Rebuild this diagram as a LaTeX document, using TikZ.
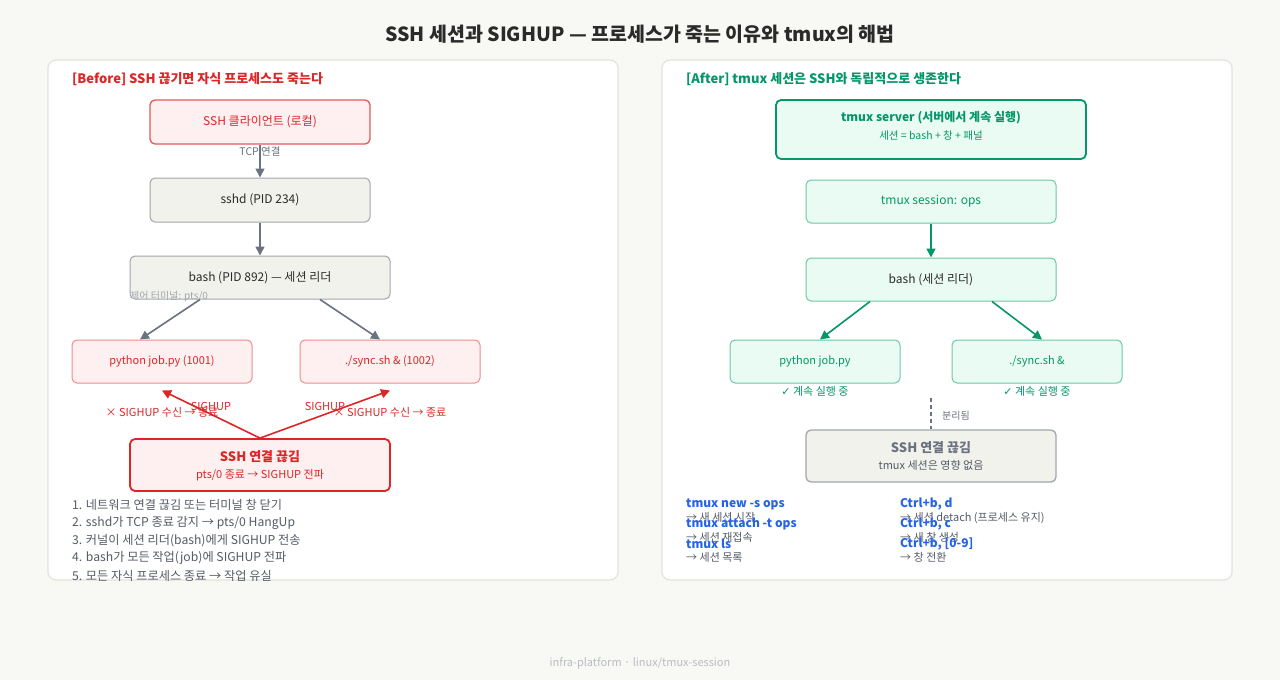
\documentclass[tikz,border=0pt]{standalone}
\usepackage{fontspec}
\setmainfont{Noto Sans CJK KR}
\newfontfamily\symf{DejaVu Sans}
\usetikzlibrary{arrows.meta,calc}
\definecolor{bgc}{HTML}{F8F8F4}
\definecolor{panelb}{HTML}{E4E4DA}
\definecolor{redt}{HTML}{DC2626}
\definecolor{redf}{HTML}{FEF0F0}
\definecolor{redb}{HTML}{E35A5A}
\definecolor{redl}{HTML}{EF8C8C}
\definecolor{grayf}{HTML}{F2F2EC}
\definecolor{grayb}{HTML}{A2A6AE}
\definecolor{graya}{HTML}{6B7280}
\definecolor{greent}{HTML}{059669}
\definecolor{greenf}{HTML}{EAFBF3}
\definecolor{greenl}{HTML}{6CC8A6}
\definecolor{bluet}{HTML}{2563EB}
\definecolor{listt}{HTML}{555B66}
\definecolor{darkt}{HTML}{2A2A2A}
\definecolor{footc}{HTML}{B8BCC4}
\tikzset{
  fs/.style={font=\fontsize{#1}{#1}\selectfont},
  tx/.style={inner sep=0pt, yshift=-1pt},
  panel/.style={draw=panelb, line width=1.2pt, fill=white, rounded corners=8pt},
  box/.style={rounded corners=5pt, line width=1pt, inner sep=0pt, align=center},
  redbox/.style={box, draw=redb, fill=redf, text=redt, fs=12},
  redlbox/.style={box, draw=redl, fill=redf, text=redt, fs=11},
  graybox/.style={box, draw=grayb, fill=grayf, text=darkt, fs=12},
  greenbox/.style={box, draw=greenl, fill=greenf, text=greent, fs=12},
  garrow/.style={draw=graya, line width=1.6pt, -{Triangle[length=9pt,width=9pt]}},
  rarrow/.style={draw=redt, line width=1.6pt, -{Triangle[length=9pt,width=9pt]}},
  grarrow/.style={draw=greent, line width=1.6pt, -{Triangle[length=9pt,width=9pt]}},
  lbl/.style={tx, anchor=west},
  cmd/.style={tx, anchor=west, text=bluet, font=\bfseries\fontsize{12}{12}\selectfont},
  desc/.style={tx, anchor=west, text=listt, fs=11},
}
\begin{document}
\begin{tikzpicture}[x=1pt,y=-1pt]
\fill[bgc] (0,0) rectangle (1280,680);
\useasboundingbox (0,0) rectangle (1280,680);
\node[tx, text=darkt, font=\bfseries\fontsize{19.5}{19.5}\selectfont] (title) at (640,33) {SSH 세션과 SIGHUP — 프로세스가 죽는 이유와 tmux의 해법};

% panels
\draw[panel] (48,60) rectangle (618,580);
\draw[panel] (662,60) rectangle (1232,580);

% ===== LEFT =====
\node[lbl, text=redt, font=\bfseries\fontsize{13}{13}\selectfont] (lh) at (72,78) {[Before] SSH 끊기면 자식 프로세스도 죽는다};
\node[redbox, minimum width=220pt, minimum height=44pt, line width=1.3pt] (cli) at (260,122) {SSH 클라이언트 (로컬)};
\node[graybox, minimum width=220pt, minimum height=44pt] (sshd) at (260,200) {sshd (PID 234)};
\node[graybox, minimum width=260pt, minimum height=43pt] (bash) at (260,277.5) {bash (PID 892) — 세션 리더};
\node[redlbox, minimum width=180pt, minimum height=43pt] (py) at (162,361.5) {python job.py (1001)};
\node[redlbox, minimum width=180pt, minimum height=43pt] (sy) at (390,361.5) {./sync.sh \& (1002)};
\node[box, draw=redt, fill=redf, line width=1.8pt, minimum width=260pt, minimum height=52pt] (down) at (260,465) {};
\node[tx, text=redt, font=\bfseries\fontsize{13}{13}\selectfont] (downt) at (260,456) {SSH 연결 끊김};
\node[tx, text=redt, fs=11] (downs) at (260,474) {pts/0 종료 → SIGHUP 전파};

\draw[garrow] (cli) -- (sshd);
\node[tx, text=graya, fs=10.5] (tcp) at (260,151) {TCP 연결};
\draw[garrow] (sshd) -- (bash);
\node[tx, anchor=west, text=grayb, fs=10] (ctty) at (130,296) {제어 터미널: pts/0};
\draw[garrow] ($(bash.south)+(-60,0)$) -- ($(py.north)+(-22,0)$);
\draw[garrow] ($(bash.south)+(60,0)$) -- ($(sy.north)+(-10,0)$);
\draw[rarrow] (down.north) -- ($(py.south)+(0,7)$);
\draw[rarrow] (down.north) -- ($(sy.south)+(0,7)$);
\node[tx, text=redt, fs=11] (s1) at (211,405) {SIGHUP};
\node[tx, text=redt, fs=11] (s2) at (325,405) {SIGHUP};
\node[tx, text=redt, fs=11] (k1) at (162,411) {× SIGHUP 수신 → 종료};
\node[tx, text=redt, fs=11] (k2) at (390,411) {× SIGHUP 수신 → 종료};

\node[desc, fs=12.2] (l1) at (72,504) {1. 네트워크 연결 끊김 또는 터미널 창 닫기};
\node[desc, fs=12.2] (l2) at (72,521.5) {2. sshd가 TCP 종료 감지 → pts/0 HangUp};
\node[desc, fs=12.2] (l3) at (72,539.5) {3. 커널이 세션 리더(bash)에게 SIGHUP 전송};
\node[desc, fs=12.2] (l4) at (72,557) {4. bash가 모든 작업(job)에 SIGHUP 전파};
\node[desc, fs=12.2] (l5) at (72,575) {5. 모든 자식 프로세스 종료 → 작업 유실};

% ===== RIGHT =====
\node[lbl, text=greent, font=\bfseries\fontsize{13}{13}\selectfont] (rh) at (686,78) {[After] tmux 세션은 SSH와 독립적으로 생존한다};
\node[box, draw=greent, fill=greenf, line width=1.8pt, minimum width=310pt, minimum height=59pt] (srv) at (931,129.5) {};
\node[tx, text=greent, font=\bfseries\fontsize{12}{12}\selectfont] (srvt) at (931,117) {tmux server (서버에서 계속 실행)};
\node[tx, text=greent, fs=10.5] (srvs) at (931,135) {세션 = bash + 창 + 패널};
\node[greenbox, minimum width=250pt, minimum height=43pt] (ses) at (931,201.5) {tmux session: ops};
\node[greenbox, text=darkt, minimum width=250pt, minimum height=43pt] (rb) at (931,279.5) {bash (세션 리더)};
\node[greenbox, fs=11, minimum width=170pt, minimum height=43pt] (rpy) at (815,361.5) {python job.py};
\node[greenbox, fs=11, minimum width=170pt, minimum height=43pt] (rsy) at (1037,361.5) {./sync.sh \&};
\draw[grarrow] (ses) -- (rb);
\draw[grarrow] ($(rb.south)+(-61,0)$) -- ($(rpy.north)+(5,0)$);
\draw[grarrow] ($(rb.south)+(61,0)$) -- ($(rsy.north)+(5,0)$);
\node[tx, text=greent, fs=11] (ok1) at (815,390.5) {{\symf ✓} 계속 실행 중};
\node[tx, text=greent, fs=11] (ok2) at (1037,390.5) {{\symf ✓} 계속 실행 중};
\node[box, draw=grayb, fill=grayf, line width=1.3pt, minimum width=250pt, minimum height=52pt] (rdown) at (931,456) {};
\node[tx, text=graya, font=\bfseries\fontsize{13}{13}\selectfont] (rdt) at (931,447) {SSH 연결 끊김};
\node[tx, text=listt, fs=11] (rds) at (931,464) {tmux 세션은 영향 없음};
\coordinate (dtop) at (931,398);
\draw[graya, line width=1.4pt, dash pattern=on 4pt off 3pt] (dtop) -- (rdown.north);
\node[tx, anchor=west, text=graya, fs=10] (sep) at (942,415) {분리됨};

\node[cmd] (c1) at (686,503) {tmux new -s ops};
\node[desc] (d1) at (686,516.5) {→ 새 세션 시작};
\node[cmd] (c2) at (686,523) {tmux attach -t ops};
\node[desc] (d2) at (686,536.5) {→ 세션 재접속};
\node[cmd] (c3) at (686,543) {tmux ls};
\node[desc] (d3) at (686,556.5) {→ 세션 목록};
\node[cmd] (c4) at (900,503) {Ctrl+b, d};
\node[desc] (d4) at (900,517) {→ 세션 detach (프로세스 유지)};
\node[cmd] (c5) at (900,523) {Ctrl+b, c};
\node[desc] (d5) at (900,536.5) {→ 새 창 생성};
\node[cmd] (c6) at (900,543) {Ctrl+b, [0-9]};
\node[desc] (d6) at (900,556.5) {→ 창 전환};

\node[tx, text=footc, fs=11] (foot) at (640,662) {infra-platform · linux/tmux-session};
\end{tikzpicture}
\end{document}
